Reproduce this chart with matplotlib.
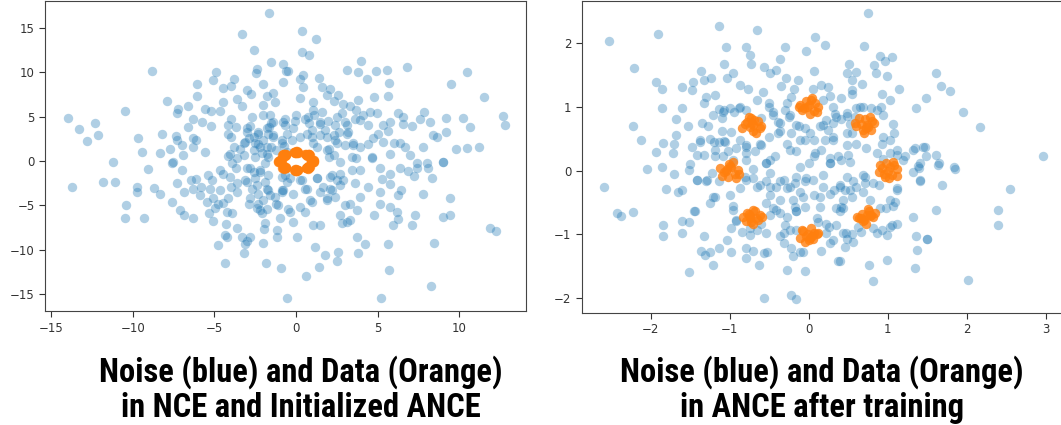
import numpy as np
import matplotlib.pyplot as plt

# noise (blue) points: NCE / initialized ANCE
noise_left = [
    (-1.63, 16.7), (-3.3, 14.3), (-2.6, 12.5), (-1.55, 11.2), (-0.78, 10.9), (-0.6, 10.1), (-2.4, 10.4),
    (-2.45, 9.9), (-8.8, 10.1), (-4.9, 10.0), (-5.1, 9.1), (-3.8, 9.2), (-4.0, 8.5), (-4.45, 8.2),
    (-2.04, 8.7), (-0.78, 8.9), (-3.0, 8.0), (-2.78, 7.6), (-1.43, 7.7), (-6.04, 8.65), (-6.04, 7.3),
    (-7.9, 6.8), (-4.45, 6.7), (-3.6, 7.0), (-3.3, 6.2), (-1.8, 7.3), (-1.29, 6.7), (-2.0, 6.3),
    (-6.6, 6.2), (-7.2, 5.9), (-7.3, 5.4), (-5.6, 5.9), (-5.2, 5.6), (-4.65, 5.6), (-10.5, 5.6),
    (-13.96, 4.9), (-12.3, 4.25), (-13.3, 3.6), (-12.1, 2.9), (-12.8, 2.3), (-9.65, 2.6), (-9.4, 1.05),
    (-8.2, 3.1), (-8.3, 0.9), (-7.7, 1.35), (-7.35, 2.8), (-7.3, 2.4), (-7.0, 1.8), (-6.6, 3.9),
    (-6.3, 4.7), (-5.75, 4.4), (-5.2, 3.95), (-6.3, 2.6), (-6.3, 1.6), (-6.1, 2.4), (-5.6, 1.05),
    (-6.9, 0.7), (-7.55, -0.15), (-11.2, -0.1), (-4.15, 4.05), (-4.0, 4.8), (-3.7, 3.9), (-4.15, 3.1),
    (-4.0, 2.75), (-2.7, 5.0), (-2.8, 3.95), (-3.0, 3.3), (-2.9, 2.55), (-3.2, 2.05), (-3.4, 1.4),
    (-3.8, 1.6), (-4.05, 0.85), (-4.15, 0.55), (-3.6, 0.3), (-2.6, 2.75), (-2.3, 3.1), (-2.0, 2.4),
    (-2.35, 1.9), (-2.6, 1.25), (-2.1, 0.9), (-1.7, 0.5), (-1.6, 5.2), (-1.4, 4.4), (-1.63, 3.9),
    (-1.7, 3.1), (-1.4, 2.75), (-0.88, 2.4), (-0.7, 4.7), (-0.67, 4.1), (-1.2, 1.25), (-0.73, 1.7),
    (-1.8, 1.6), (-0.53, 1.05),
    (0.35, 14.7), (1.22, 13.8), (0.35, 12.3), (0.82, 12.0), (-0.47, 10.1), (3.98, 11.3), (3.1, 10.3),
    (3.8, 10.0), (4.9, 10.2), (5.55, 10.3), (6.8, 10.6), (10.5, 10.0), (9.5, 8.65), (4.33, 9.3),
    (5.7, 8.8), (1.43, 9.4), (0.45, 9.7), (0.25, 9.2), (0.45, 8.3), (1.57, 8.3), (2.08, 8.1),
    (2.6, 7.5), (1.88, 7.4), (4.8, 7.2), (5.65, 7.3), (3.78, 6.9), (11.5, 7.2), (0.25, 7.1),
    (1.06, 6.7), (2.3, 6.8), (2.9, 6.4), (3.3, 6.2), (3.7, 5.75), (1.06, 5.75), (1.57, 5.55),
    (2.8, 5.4), (4.53, 5.55), (4.94, 5.4), (4.1, 5.2), (6.27, 5.4), (6.57, 5.0), (7.84, 5.55),
    (7.6, 4.8), (8.2, 4.45), (9.2, 4.9), (10.2, 4.9), (10.65, 3.8), (12.65, 5.1), (12.78, 4.05),
    (-0.06, 4.55), (0.55, 4.8), (0.82, 4.25), (1.47, 4.2), (1.98, 4.5), (2.4, 4.05), (3.1, 4.05),
    (3.2, 3.3), (2.65, 3.3), (3.9, 4.6), (4.4, 4.05), (5.35, 4.05), (5.75, 4.45), (5.65, 3.4),
    (5.04, 3.1), (4.73, 2.6), (7.1, 3.95), (6.57, 4.2), (8.4, 2.9), (8.65, 2.75), (9.2, 3.3),
    (1.47, 2.9), (1.88, 2.75), (0.96, 2.75), (0.25, 2.75), (-0.27, 2.4), (2.4, 2.35), (3.0, 1.8),
    (3.5, 2.05), (3.9, 1.6), (4.4, 1.95), (5.35, 2.2), (6.0, 2.0), (6.37, 2.0), (6.67, 1.6),
    (7.8, 1.55), (9.8, 1.35), (10.45, 1.45), (11.2, 1.6), (1.88, 1.25), (1.27, 1.6), (2.3, 0.7),
    (4.63, 0.5), (5.75, 0.85), (7.0, 0.7), (7.4, -0.25), (8.0, -0.25), (9.0, -0.1),
    (-13.7, -2.9), (-11.8, -2.4), (-11.1, -2.4), (-9.05, -0.9), (-9.75, -2.9), (-9.75, -3.5),
    (-8.7, -3.0), (-8.3, -3.65), (-10.4, -5.0), (-10.5, -6.4), (-9.3, -6.45), (-7.6, -0.25),
    (-7.3, -2.5), (-7.6, -4.65), (-7.1, -5.5), (-6.85, -6.1), (-6.3, -6.4), (-7.0, -1.0),
    (-6.4, -2.15), (-6.86, -3.5), (-6.3, -3.1), (-6.1, -2.0), (-5.8, -2.9), (-5.9, -3.8),
    (-5.37, -1.6), (-5.16, -2.15), (-5.27, -3.1), (-4.65, -3.3), (-5.1, -4.1), (-5.43, -4.6),
    (-4.77, -4.8), (-4.98, -5.3), (-5.33, -5.8), (-5.06, -6.8), (-4.25, -5.7), (-3.9, -5.9),
    (-4.5, -4.7), (-4.15, -4.2), (-4.65, -1.0), (-4.45, -1.4), (-3.9, -0.25), (-3.7, -0.8),
    (-4.05, -1.75), (-3.63, -2.5), (-3.6, -3.5), (-4.0, -2.9), (-3.1, -2.15), (-3.0, -0.8),
    (-2.6, -1.2), (-2.5, -1.95), (-2.2, -1.0), (-1.9, -2.3), (-1.8, -3.1), (-2.7, -3.1),
    (-2.3, -3.65), (-1.6, -3.8), (-1.3, -4.0), (-0.88, -3.45), (-0.67, -1.6), (-0.57, -2.3),
    (-2.3, -4.8), (-2.9, -4.8), (-2.4, -5.3), (-2.2, -5.5), (-2.1, -5.9), (-1.8, -5.35),
    (-1.08, -5.0), (-0.98, -6.4), (-0.47, -5.35), (-4.3, -7.1), (-4.35, -8.3), (-4.25, -8.5),
    (-3.6, -7.5), (-3.3, -8.5), (-3.0, -9.0), (-2.8, -8.5), (-3.1, -9.3), (-1.9, -7.0),
    (-1.93, -7.7), (-1.14, -7.8), (-1.14, -8.5), (-2.0, -9.2), (-4.75, -9.5), (-3.16, -10.3),
    (-4.35, -11.5), (-1.84, -11.5), (-0.94, -12.0), (-0.57, -15.4),
    (9.0, -0.15), (8.1, -0.75), (8.35, -1.95), (7.4, -0.75), (7.2, -1.65), (6.88, -1.1),
    (6.37, -0.8), (5.75, -1.4), (5.15, -0.8), (5.24, -2.0), (4.63, 0.3), (3.7, 0.3), (3.9, -1.0),
    (4.43, -2.9), (3.9, -4.0), (3.76, -5.5), (3.1, -6.85), (2.8, -7.0), (3.3, -6.65), (3.0, -5.0),
    (2.7, -6.1), (2.4, -4.0), (1.88, -4.2), (2.08, -3.1), (1.67, -2.9), (2.5, -2.15), (2.9, -2.15),
    (2.08, -1.75), (1.27, -1.95), (0.55, -3.1), (0.24, -2.15), (0.86, -4.4), (0.55, -5.7),
    (-0.37, -5.7), (-0.16, -6.85), (-0.78, -3.3), (1.06, -7.2), (1.47, -7.2), (0.04, -8.5),
    (1.16, -9.7), (1.78, -10.6), (2.6, -10.2), (2.5, -11.2), (1.43, -11.9), (0.6, -12.9),
    (3.76, -8.5), (4.22, -9.3), (3.8, -10.4), (5.65, -9.3), (5.7, -12.3), (4.8, -6.1), (5.14, -4.8),
    (5.14, -3.5), (5.75, -5.15), (6.16, -5.7), (6.27, -6.5), (5.96, -7.2), (6.27, -3.8),
    (6.41, -3.3), (5.75, -2.6), (7.08, -7.2), (7.3, -6.1), (7.76, -3.65), (9.43, -4.2),
    (9.43, -6.1), (9.0, -6.3), (8.45, -9.2), (11.9, -7.5), (12.25, -7.9), (8.27, -14.1), (5.2, -15.4),
    (-2.0, 5.2), (-1.5, 4.25), (-0.78, 4.4), (0.0, 5.15), (0.75, 5.0), (1.1, 5.2), (1.47, 4.4),
    (2.5, 5.0), (3.0, 4.4), (3.6, 4.8), (-3.0, 3.7), (-2.3, 3.3), (-1.8, 3.7), (-1.4, 2.9),
    (-0.57, 3.1), (-0.16, 3.7), (0.65, 3.1), (0.96, 3.5), (1.78, 3.5), (2.3, 2.9), (3.1, 3.1),
    (-3.1, 2.2), (-2.5, 2.0), (-2.2, 1.6), (-1.5, 1.6), (-0.88, 2.0), (1.06, 2.0), (2.0, 1.4),
    (2.5, 2.0), (3.5, 1.8), (-3.2, 0.7), (-2.5, 0.5), (-1.8, 0.85), (-1.9, -0.25), (2.0, 0.5),
    (2.7, -0.1), (3.4, 0.5), (-2.8, -0.8), (-2.2, -1.2), (-1.7, -1.6), (-0.88, -1.75),
    (-0.37, -1.95), (0.35, -2.1), (1.27, -1.95), (2.2, -1.6), (2.7, -1.4), (3.4, -1.0),
    (-3.0, -2.3), (-2.4, -2.7), (-1.7, -3.3), (-0.88, -3.3), (-0.16, -3.65), (0.65, -3.1),
    (1.47, -3.45), (2.2, -3.3), (2.7, -2.7), (3.6, -2.5), (-2.8, -4.2), (-2.0, -4.4), (-1.2, -4.8),
    (0.96, -4.6), (1.9, -4.4), (3.3, -4.8), (0.25, -5.15),
]

# noise (blue) points: ANCE after training
noise_right = [
    (-2.53, 2.03), (-2.21, 1.6), (-1.91, 2.14), (-1.93, 1.39), (-1.86, 1.27), (-1.86, 0.97),
    (-2.23, 0.7), (-2.12, 0.48), (-1.93, 0.29), (-1.84, 0.43), (-1.72, 0.27), (-1.7, 0.42),
    (-1.68, 0.55), (-1.68, 0.8), (-1.61, 0.97), (-1.6, 1.3), (-1.53, 0.69), (-1.48, 0.37),
    (-1.48, 1.26), (-1.46, 1.39), (-1.36, 1.56), (-1.32, 1.42), (-1.24, 1.44), (-1.3, 1.15),
    (-1.32, 1.06), (-1.38, 0.48), (-1.42, 0.25), (-1.35, 0.74), (-1.28, 0.69), (-1.21, 0.87),
    (-1.2, 0.45), (-1.13, 2.26), (-1.05, 1.93), (-1.07, 1.67), (-0.96, 1.53), (-1.03, 1.44),
    (-1.13, 0.96), (-1.07, 0.95), (-1.1, 0.82), (-1.0, 0.97), (-1.1, 0.61), (-0.99, 0.6),
    (-1.13, 0.44), (-1.07, 0.46), (-1.02, 0.3), (-0.88, 0.97), (-0.79, 0.95), (-0.87, 1.34),
    (-0.77, 1.27), (-0.79, 1.93), (-0.75, 1.8), (-0.73, 1.67), (-0.66, 2.2), (-0.57, 1.62),
    (-0.49, 1.52), (-0.41, 1.57), (-0.3, 1.93), (-0.36, 1.74), (-0.29, 1.44), (-0.35, 1.32),
    (-0.58, 1.23), (-0.66, 1.1), (-0.51, 1.05), (-0.45, 0.92), (-0.6, 0.82), (-0.37, 0.74),
    (-0.39, 0.58), (-0.3, 0.95), (-0.22, 1.15), (-0.14, 1.41), (-0.19, 1.28), (-0.04, 1.87),
    (-0.25, 0.84), (-0.22, 0.58), (-0.12, 0.69), (-0.28, 0.42), (-0.16, 0.3), (-0.05, 0.48),
    (-0.87, 0.48), (-0.79, 0.37), (-0.68, 0.3), (-0.62, 0.42), (-0.54, 0.11), (-0.49, 0.16),
    (-0.79, 0.16), (-1.19, 0.23), (-1.32, 0.24), (-1.5, 0.1), (-2.05, 0.03), (-1.86, 0.06),
    (0.75, 2.46), (0.08, 2.08), (0.2, 1.96), (0.7, 1.95), (0.9, 1.79), (1.05, 1.78), (0.96, 1.71),
    (0.82, 1.65), (0.51, 1.67), (0.06, 1.55), (0.48, 1.53), (0.6, 1.54), (0.85, 1.52), (0.99, 1.47),
    (0.54, 1.41), (0.67, 1.35), (0.55, 1.26), (0.54, 1.2), (0.92, 1.2), (1.14, 1.28), (1.61, 1.52),
    (1.67, 1.32), (1.78, 1.25), (1.48, 1.14), (1.35, 0.97), (1.95, 0.92), (2.16, 0.68), (0.05, 1.27),
    (0.16, 1.33), (0.24, 1.3), (0.27, 1.16), (0.41, 1.13), (0.18, 1.1), (0.31, 1.0), (0.33, 0.89),
    (0.41, 0.81), (0.48, 0.86), (0.65, 1.0), (0.79, 0.97), (0.91, 1.0), (0.94, 0.87), (1.06, 0.73),
    (1.08, 0.59), (0.94, 0.53), (0.58, 0.84), (0.52, 0.73), (0.48, 0.58), (0.54, 0.59), (0.31, 0.74),
    (0.14, 0.69), (0.01, 0.58), (0.06, 0.48), (0.24, 0.64), (0.31, 0.48), (0.16, 0.32), (0.06, 0.22),
    (0.0, 0.11), (0.27, 0.11), (0.5, 0.24), (0.52, 0.14), (0.6, 0.42), (0.72, 0.35), (0.86, 0.28),
    (1.03, 0.27), (1.11, 0.24), (1.22, 0.22), (1.34, 0.35), (1.47, 0.36), (1.48, 0.22), (1.61, 0.24),
    (1.65, 0.12), (1.38, 0.07), (1.84, 0.06), (2.96, 0.23),
    (-1.71, -0.06), (-1.51, 0.01), (-1.41, -0.15), (-1.3, -0.17), (-1.23, -0.04), (-1.13, -0.17),
    (-2.59, -0.25), (-1.81, -0.29), (-1.65, -0.33), (-1.61, -0.31), (-1.19, -0.42), (-1.25, -0.51),
    (-1.0, -0.39), (-0.87, -0.28), (-0.79, -0.15), (-0.71, -0.12), (-0.62, -0.23), (-0.49, -0.25),
    (-0.37, -0.17), (-0.28, -0.28), (-0.18, -0.2), (-0.11, -0.33), (-0.03, -0.12), (-0.54, -0.51),
    (-0.45, -0.59), (-0.37, -0.67), (-0.3, -0.85), (-0.18, -0.57), (-0.16, -0.64), (-0.96, -0.62),
    (-0.92, -0.79), (-0.85, -0.96), (-0.75, -1.01), (-0.75, -0.9), (-0.6, -0.83), (-0.66, -0.93),
    (-0.49, -0.7), (-2.43, -0.67), (-2.37, -0.71), (-2.22, -0.65), (-1.84, -0.85), (-1.84, -1.03),
    (-1.6, -0.79), (-1.51, -0.8), (-1.45, -0.64), (-1.6, -0.97), (-1.32, -1.02), (-1.37, -1.26),
    (-1.31, -1.32), (-1.25, -1.28), (-1.21, -1.47), (-1.14, -1.21), (-1.04, -1.09), (-0.99, -1.28),
    (-0.79, -1.21), (-0.79, -1.37), (-0.71, -1.26), (-0.63, -1.47), (-0.57, -1.29), (-0.53, -1.28),
    (-1.52, -1.59), (-0.36, -1.02), (-0.23, -1.21), (-0.2, -1.33), (-0.11, -1.28), (-0.28, -1.55),
    (-0.05, -1.57), (-0.57, -1.99), (-0.22, -1.95), (-0.16, -2.01), (-0.16, -0.93),
    (1.32, -0.02), (1.4, 0.04), (1.64, 0.09), (1.85, 0.03), (1.41, -0.17), (1.69, -0.23),
    (1.12, -0.28), (0.89, -0.22), (0.81, -0.2), (0.71, -0.1), (0.56, -0.17), (0.48, -0.1),
    (0.39, -0.23), (0.32, -0.3), (0.18, -0.25), (0.46, -0.3), (0.69, -0.33), (0.77, -0.46),
    (0.54, -0.41), (0.41, -0.57), (0.43, -0.59), (0.39, -0.64), (0.14, -0.57), (0.06, -0.38),
    (-0.05, -0.57), (0.9, -0.59), (0.98, -0.58), (1.07, -0.56), (1.09, -0.49), (1.32, -0.72),
    (1.61, -0.62), (2.39, -0.61), (2.55, -0.29), (2.39, -0.85), (1.05, -0.85), (1.12, -0.84),
    (0.92, -0.93), (0.99, -1.01), (0.81, -0.9), (0.62, -0.88), (0.66, -0.96), (0.54, -1.0),
    (0.47, -0.98), (0.48, -1.07), (0.35, -0.85), (0.26, -0.89), (0.12, -0.8), (0.31, -1.09),
    (0.46, -1.19), (0.56, -1.11), (0.15, -1.26), (-0.07, -1.28), (0.37, -1.42), (0.39, -1.41),
    (0.76, -1.48), (0.99, -1.4), (0.81, -1.73), (1.34, -1.53), (1.37, -1.24), (1.5, -1.07),
    (2.01, -1.71),
    (-1.19, 1.18), (-1.08, 0.92), (-0.95, 0.92), (-0.87, 1.0), (-0.51, 1.0), (-0.45, 0.87),
    (-0.39, 0.76), (-0.37, 0.61), (-0.51, 0.53), (-0.6, 0.4), (-0.79, 0.4), (-0.92, 0.35),
    (-1.06, 0.45), (-1.25, 0.5), (-1.38, 0.45), (-1.19, 0.32), (-1.08, 0.22), (-0.96, 0.16),
    (-0.79, 0.27), (-0.43, 0.22), (-0.24, 0.32), (-0.11, 0.48), (-0.05, 0.66), (-0.16, 0.71),
    (-0.24, 0.87), (-0.28, 1.05), (0.18, 0.71), (0.22, 0.79), (0.31, 0.53), (0.2, 0.48),
    (0.08, 0.27), (0.27, 0.19), (0.41, 0.16), (0.48, 0.4), (0.35, 0.84), (0.48, 0.9), (0.6, 0.97),
    (0.69, 1.0), (0.86, 0.95), (1.03, 1.1), (0.92, 0.42), (1.03, 0.48), (1.11, 0.32), (1.32, 0.32),
    (1.45, 0.37), (1.41, 0.11), (0.94, 0.18), (1.19, 0.16),
    (-1.42, -0.15), (-1.29, -0.15), (-1.21, -0.41), (-1.44, -0.64), (-0.96, -0.56), (-0.92, -0.77),
    (-0.98, -0.9), (-0.81, -0.1), (-0.7, 0.03), (-0.54, 0.11), (-0.49, -0.04), (-0.54, -0.17),
    (-0.66, -0.25), (-0.41, -0.25), (-0.32, -0.15), (-0.24, -0.25), (-0.16, -0.1), (-0.11, 0.06),
    (-0.05, -0.17), (0.05, -0.15), (0.18, -0.07), (0.27, 0.11), (0.37, 0.22), (0.39, -0.25),
    (0.27, -0.36), (0.14, -0.41), (-0.07, -0.41), (-0.2, -0.46), (-0.37, -0.46), (-0.49, -0.38),
    (-0.41, -0.62), (-0.28, -0.72), (-0.16, -0.64), (0.1, -0.75), (0.22, -0.83), (0.35, -0.59),
    (0.43, -0.46), (0.52, -0.3), (0.6, -0.25), (0.69, -0.07), (0.71, -0.2), (0.43, -0.98),
    (-0.32, -0.98), (-0.24, -0.93), (-0.54, -0.98), (-0.32, -1.14), (0.22, -0.98), (0.27, -1.14),
    (0.86, -0.98), (1.03, -0.88), (1.03, -0.46), (1.11, -0.3), (1.41, -0.15), (1.36, -1.03),
    (1.49, -1.07),
]

# data (orange): 8 small clusters on the unit circle, same points in both panels
data_x = [
    0.92, 1.05, 0.98, 1.11, 0.89, 1.02, 1.08, 0.95, 1.12, 0.90, 1.00, 1.06, 0.96, 1.03,
    0.66, 0.79, 0.71, 0.60, 0.83, 0.70, 0.75, 0.63, 0.80, 0.68, 0.73, 0.58, 0.77, 0.72,
    -0.06, 0.08, 0.01, -0.11, 0.12, 0.03, -0.04, 0.06, -0.09, 0.00, 0.10, -0.13, 0.04, -0.02,
    -0.75, -0.64, -0.70, -0.81, -0.60, -0.73, -0.67, -0.78, -0.62, -0.71, -0.84, -0.69, -0.76, -0.72,
    -1.04, -0.93, -1.01, -0.89, -1.10, -0.98, -1.07, -0.92, -1.00, -1.12, -0.96, -1.05, -0.88, -1.02,
    -0.67, -0.78, -0.73, -0.62, -0.83, -0.70, -0.76, -0.64, -0.74, -0.71, -0.59, -0.80, -0.68, -0.75,
    0.04, -0.07, 0.00, 0.10, -0.11, 0.03, -0.03, 0.07, -0.05, 0.01, 0.12, -0.09, 0.05, -0.01,
    0.73, 0.64, 0.76, 0.69, 0.81, 0.67, 0.61, 0.75, 0.70, 0.79, 0.72, 0.84, 0.66, 0.77,
]
data_y = [
    0.04, -0.07, 0.11, 0.02, -0.03, -0.12, 0.09, -0.05, -0.08, 0.08, 0.00, 0.13, -0.10, 0.05,
    0.72, 0.63, 0.80, 0.70, 0.74, 0.59, 0.68, 0.82, 0.77, 0.64, 0.71, 0.75, 0.84, 0.67,
    0.97, 1.05, 0.89, 1.02, 0.99, 1.11, 1.08, 0.93, 0.95, 1.03, 0.91, 1.00, 1.13, 0.99,
    0.68, 0.77, 0.62, 0.73, 0.70, 0.82, 0.59, 0.76, 0.66, 0.71, 0.67, 0.79, 0.84, 0.74,
    0.03, -0.06, 0.10, 0.01, -0.09, 0.06, -0.03, -0.12, 0.07, 0.04, 0.13, -0.01, -0.05, -0.10,
    -0.74, -0.66, -0.80, -0.70, -0.72, -0.61, -0.68, -0.77, -0.71, -0.84, -0.73, -0.79, -0.63, -0.75,
    -1.03, -0.95, -1.09, -1.00, -1.05, -0.90, -1.02, -0.97, -1.12, -1.06, -0.98, -0.93, -1.07, -0.99,
    -0.69, -0.75, -0.63, -0.79, -0.72, -0.68, -0.73, -0.60, -0.77, -0.70, -0.84, -0.66, -0.74, -0.71,
]

captions = ['Noise (blue) and Data (Orange)\nin NCE and Initialized ANCE',
            'Noise (blue) and Data (Orange)\nin ANCE after training']

fig = plt.figure(figsize=(10.61, 4.25), dpi=100)
ax1 = fig.add_axes([0.0424, 0.268, 0.4533, 0.7296])
ax2 = fig.add_axes([0.5485, 0.2647, 0.4552, 0.7329])

for ax, noise in [(ax1, noise_left), (ax2, noise_right)]:
    nx, ny = np.array(noise).T
    ax.scatter(nx, ny, s=46, color='tab:blue', alpha=0.35, linewidths=0)
    ax.scatter(data_x, data_y, s=46, color='tab:orange', alpha=0.8, linewidths=0)
    ax.tick_params(labelsize=8.5, length=4, width=0.8, colors='#333333')
    for sp in ax.spines.values():
        sp.set_linewidth(0.8)
        sp.set_color('#444444')

ax1.set_xlim(-15.37, 14.08)
ax1.set_ylim(-16.9, 18.04)
ax1.set_xticks([-15, -10, -5, 0, 5, 10])
ax1.set_yticks([-15, -10, -5, 0, 5, 10, 15])

ax2.set_xlim(-2.87, 3.24)
ax2.set_ylim(-2.22, 2.65)
ax2.set_xticks([-2, -1, 0, 1, 2, 3])
ax2.set_yticks([-2, -1, 0, 1, 2])

fonts = ['Liberation Sans Narrow', 'Roboto Condensed', 'Liberation Sans', 'DejaVu Sans']
fig.text(0.2837, 0.083, captions[0], ha='center', va='center', fontsize=23.5,
         fontweight='bold', family=fonts, linespacing=1.1)
fig.text(0.7747, 0.083, captions[1], ha='center', va='center', fontsize=23.5,
         fontweight='bold', family=fonts, linespacing=1.1)

plt.savefig('out.png', dpi=100)
